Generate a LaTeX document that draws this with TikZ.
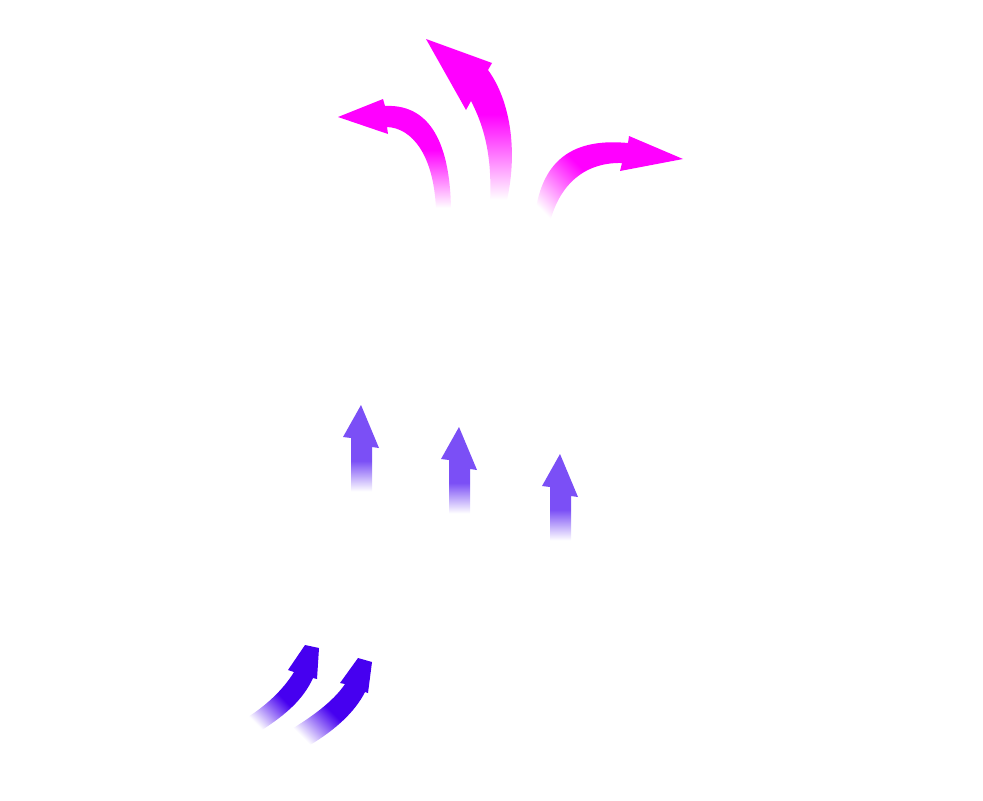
\documentclass[tikz,border=0pt]{standalone}
\usepackage{xcolor}
\usepackage{tikz}

\definecolor{fanmagenta}{HTML}{FF00FF}
\definecolor{risingviolet}{HTML}{7B4FF6}
\definecolor{inflowindigo}{HTML}{4600F0}

% fades: white at the tail, full colour towards the head
\pgfdeclareverticalshading{magentafade}{100bp}{color(0bp)=(white); color(26bp)=(white); color(52bp)=(fanmagenta); color(100bp)=(fanmagenta)}
\pgfdeclareverticalshading{magentaslant}{100bp}{color(0bp)=(white); color(20bp)=(white); color(45bp)=(fanmagenta); color(100bp)=(fanmagenta)}
\pgfdeclareverticalshading{violetfade}{100bp}{color(0bp)=(white); color(27bp)=(white); color(44bp)=(risingviolet); color(100bp)=(risingviolet)}
\pgfdeclareverticalshading{indigofade}{100bp}{color(0bp)=(white); color(23bp)=(white); color(46bp)=(inflowindigo); color(100bp)=(inflowindigo)}

\begin{document}
\begin{tikzpicture}[x=0.01cm, y=-0.01cm]
  \useasboundingbox (0,0) rectangle (983,800);

  % inflow: two curved arrows bottom left
  \shade[shading=indigofade, shading angle=-45]
    (305,645) -- (319,648) -- (317,679) -- (313,678)
    .. controls (303,700) and (285,715) .. (262,730) -- (243,720)
    .. controls (265,707) and (283,690) .. (294,672) -- (288,670) -- cycle;
  \shade[shading=indigofade, shading angle=-45]
    (358,658) -- (372,662) -- (368,693) -- (365,692)
    .. controls (355,712) and (335,730) .. (310,745) -- (290,730)
    .. controls (310,718) and (333,702) .. (345,684) -- (340,683) -- cycle;

  % rising: three straight arrows
  \foreach \x/\y in {361/405, 459/427, 560/454} {
    \shade[shading=violetfade, shift={(\x,\y)}]
      (0,0) -- (18,43) -- (11,42) -- (11,90) -- (-10,90) -- (-10,33) -- (-18,32) -- cycle;
  }

  % outflow: three curved arrows at the top
  \shade[shading=magentafade]
    (338,117) -- (383,99) -- (385,106)
    .. controls (425,104) and (450,135) .. (451,210) -- (436,210)
    .. controls (434,155) and (412,128) .. (387,127) -- (388,134) -- cycle;
  \shade[shading=magentafade]
    (426,39) -- (492,63) -- (488,70)
    .. controls (510,100) and (518,150) .. (507,200) -- (490,203)
    .. controls (492,160) and (486,130) .. (471,101) -- (466,110) -- cycle;
  \shade[shading=magentaslant, shading angle=-45]
    (683,159) -- (620,171) -- (622,163)
    .. controls (580,162) and (558,190) .. (550,222) -- (535,215)
    .. controls (542,158) and (575,138) .. (628,143) -- (629,136) -- cycle;
\end{tikzpicture}
\end{document}
